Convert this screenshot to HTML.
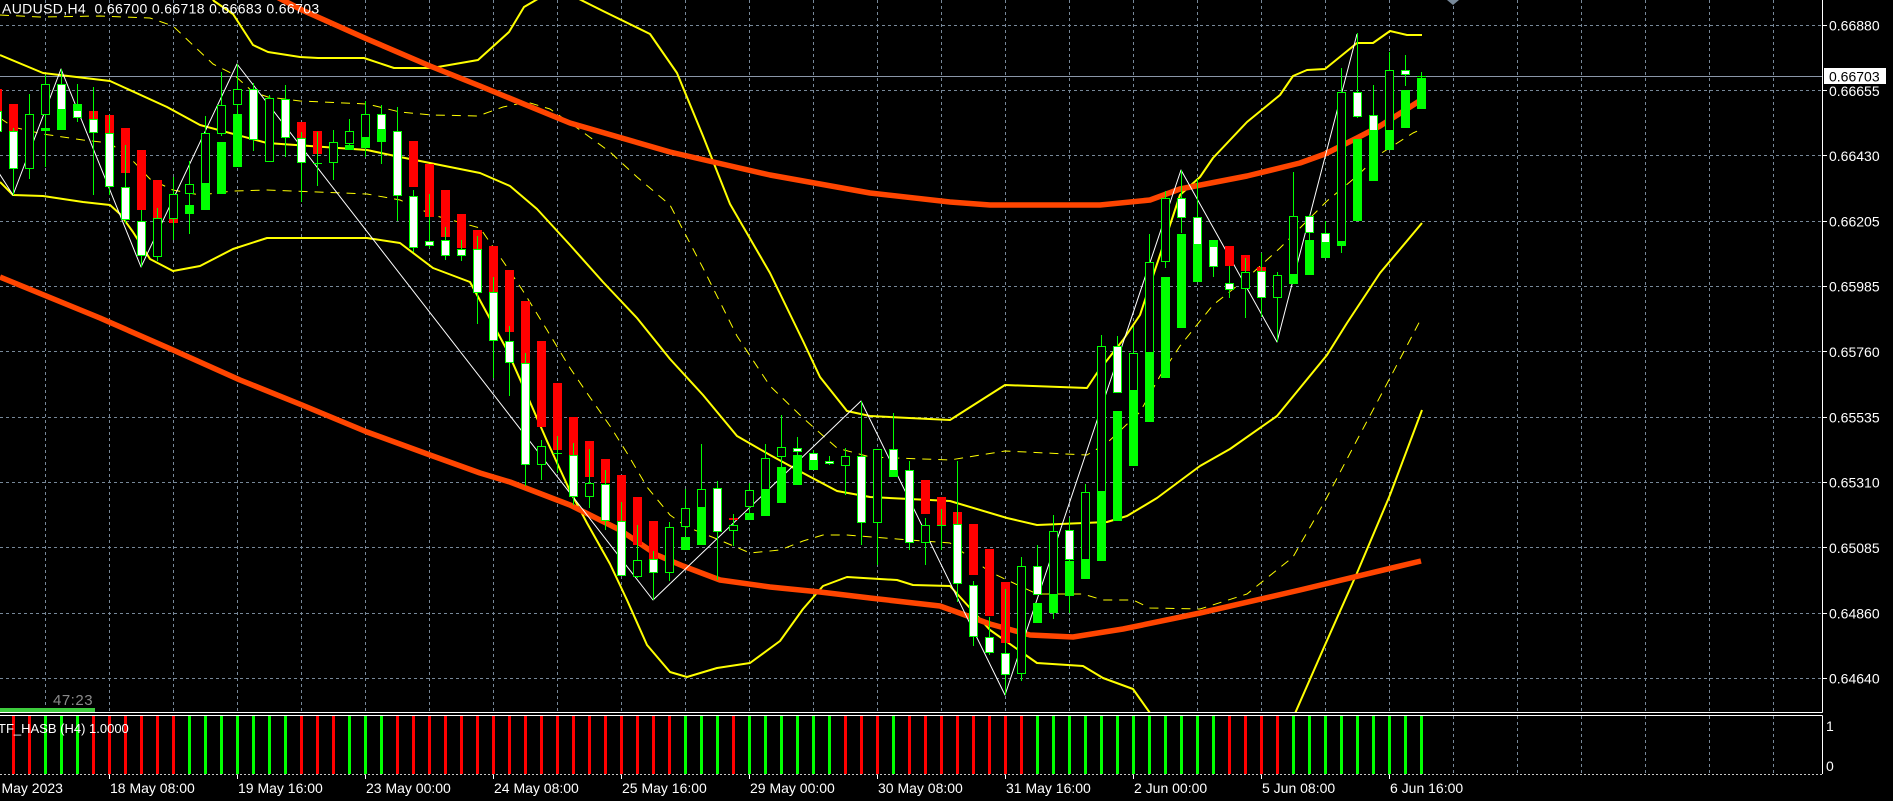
<!DOCTYPE html>
<html><head><meta charset="utf-8"><style>
html,body{margin:0;padding:0;background:#000;}
svg{display:block;}
text{font-family:"Liberation Sans",sans-serif;}
.hr{fill:#f00;stroke:none}
.hg{fill:#0f0;stroke:none}
.w{fill:#fff;stroke:#0f0}
.b{fill:#000;stroke:#0f0}
</style></head><body>
<svg width="1893" height="801" viewBox="0 0 1893 801" xmlns="http://www.w3.org/2000/svg">
<defs><clipPath id="cm"><rect x="0" y="0" width="1822" height="712"/></clipPath>
<clipPath id="cs"><rect x="0" y="716" width="1822" height="58"/></clipPath></defs>
<rect width="1893" height="801" fill="#000"/>
<!-- grid -->
<path stroke="#778899" stroke-width="1" stroke-dasharray="3 3" fill="none" d="M0 25.5H1822M0 90.5H1822M0 155.5H1822M0 221.5H1822M0 286.5H1822M0 351.5H1822M0 417.5H1822M0 482.5H1822M0 547.5H1822M0 613.5H1822M0 678.5H1822
M45.5 0V712M109.5 0V712M173.5 0V712M237.5 0V712M301.5 0V712M365.5 0V712M429.5 0V712M493.5 0V712M557.5 0V712M621.5 0V712M685.5 0V712M749.5 0V712M813.5 0V712M877.5 0V712M941.5 0V712M1005.5 0V712M1069.5 0V712M1133.5 0V712M1197.5 0V712M1261.5 0V712M1325.5 0V712M1389.5 0V712M1453.5 0V712M1517.5 0V712M1581.5 0V712M1645.5 0V712M1709.5 0V712M1773.5 0V712
M45.5 716V774M109.5 716V774M173.5 716V774M237.5 716V774M301.5 716V774M365.5 716V774M429.5 716V774M493.5 716V774M557.5 716V774M621.5 716V774M685.5 716V774M749.5 716V774M813.5 716V774M877.5 716V774M941.5 716V774M1005.5 716V774M1069.5 716V774M1133.5 716V774M1197.5 716V774M1261.5 716V774M1325.5 716V774M1389.5 716V774M1453.5 716V774M1517.5 716V774M1581.5 716V774M1645.5 716V774M1709.5 716V774M1773.5 716V774"/>
<!-- price line -->
<path d="M0 76.5H1822" stroke="#8a96a8" stroke-width="1"/>
<polygon points="1447,0 1459,0 1453,5" fill="#778899"/>
<g clip-path="url(#cm)" fill="none" stroke-linejoin="round">
<!-- dashed bands -->
<polyline stroke="#ffff00" stroke-width="1" stroke-dasharray="9 7" points="0,15 40,17 100,16 150,18 173,26 195,47 213,64 233,74 253,92 268,97 300,101 367,104 400,112 432,115 478,116 503,107 527,102 550,109 580,130 610,152 637,177 670,205 703,268 737,336 770,386 803,418 837,448 870,457 950,460 1005,451 1087,455 1107,443 1140,412 1160,376 1180,346 1213,305 1247,278 1280,248 1327,201 1357,176 1380,154 1413,133 1422,129"/>
<polyline stroke="#ffff00" stroke-width="1" stroke-dasharray="9 7" points="0,118 13,127 43,134 83,140 110,143 133,161 150,179 173,190 200,195 233,191 267,190 367,194 400,200 433,215 480,228 507,267 523,291 547,330 570,368 587,393 610,426 627,453 647,487 670,515 687,527 717,539 750,553 780,550 803,541 823,535 847,535 897,539 950,543 990,572 1037,594 1083,594 1103,600 1133,600 1150,608 1200,609 1247,594 1293,557 1325,501 1357,440 1390,378 1422,317"/>
<!-- solid bands -->
<polyline stroke="#ffff00" stroke-width="2" points="0,-25 43,-39 110,-52 149,-65 172,-54 195,-25 214,1 233,14 253,45 268,52 300,57 318,58 364,58 394,68 432,68 478,60 509,32 524,7 536,0 550,-8 577,-2 603,11 650,34 677,73 703,136 730,204 770,273 803,341 820,377 847,411 870,416 950,420 1005,385 1087,388 1097,373 1123,340 1140,315 1160,255 1180,195 1200,177 1213,158 1247,122 1280,95 1293,76 1307,70 1325,69 1357,43 1373,43 1390,31 1407,35 1422,35"/>
<polyline stroke="#ffff00" stroke-width="2" points="0,55 43,73 110,81 167,107 200,125 267,143 367,150 400,157 480,173 510,186 537,209 570,245 603,282 637,318 670,359 703,395 737,436 770,455 803,473 837,491 870,497 950,501 1007,518 1037,525 1107,522 1127,516 1157,498 1200,466 1230,449 1277,416 1327,355 1347,323 1380,273 1422,223"/>
<polyline stroke="#ffff00" stroke-width="2" points="0,182 13,195 43,196 83,202 110,205 120,214 133,232 150,259 173,271 200,266 233,249 267,238 367,238 400,243 433,268 470,282 507,350 523,386 547,441 570,491 587,523 610,564 627,600 647,645 670,672 687,677 717,668 750,663 780,641 803,609 823,586 847,577 897,580 913,585 950,586 990,630 1037,663 1083,666 1103,678 1133,689 1150,713 1200,753 1247,752 1293,718 1325,645 1357,573 1390,495 1422,410"/>
<!-- orange MAs -->
<polyline stroke="#ff4500" stroke-width="5.5" points="250,-16 275,-4 302,10 367,39 430,66 480,86 570,123 670,152 770,175 870,193 950,202 990,205 1100,205 1150,200 1180,189 1247,176 1300,163 1325,154 1357,138 1380,126 1421,100"/>
<polyline stroke="#ff4500" stroke-width="5.5" points="0,277 100,318 173,350 240,380 302,405 367,432 430,455 480,473 510,482 570,505 620,530 657,555 683,566 720,580 770,587 820,592 870,598 940,606 990,624 1030,635 1073,637 1123,629 1200,613 1300,590 1421,561"/>
<!-- zigzag -->
<polyline stroke="#fff" stroke-width="1" points="-3,170 13,195 61,69 141,267 237,64 653,600 861,401 1005,695 1181,170 1277,342 1357,34"/>
</g>
<!-- candles -->
<g clip-path="url(#cm)" stroke="#0f0" stroke-width="1" fill="none">
<g transform="translate(-3)"><path class="hr" d="M-4 89h9v22h-9z"/><path d="M.5 105V135"/><path class="w" d="M-3.5 111.5h8v20h-8z"/></g>
<g transform="translate(13)"><path class="hr" d="M-4 104h9v27h-9z"/><path d="M.5 128V195"/><path class="w" d="M-3.5 131.5h8v37h-8z"/></g>
<g transform="translate(29)"><path d="M.5 94V179"/><path class="b" d="M-3.5 114.5h8v54h-8z"/></g>
<g transform="translate(45)"><path class="hg" d="M-4 128h9v3h-9z"/><path d="M.5 75V167"/><path class="b" d="M-3.5 84.5h8v30h-8z"/></g>
<g transform="translate(61)"><path class="hg" d="M-4 109h9v21h-9z"/><path d="M.5 69V130"/><path class="w" d="M-3.5 84.5h8v25h-8z"/></g>
<g transform="translate(77)"><path class="hg" d="M-4 104h9v6h-9z"/><path d="M.5 84V122"/><path class="w" d="M-3.5 110.5h8v7h-8z"/></g>
<g transform="translate(93)"><path class="hr" d="M-4 111h9v8h-9z"/><path d="M.5 87V195"/><path class="w" d="M-3.5 119.5h8v13h-8z"/></g>
<g transform="translate(109)"><path class="hr" d="M-4 115h9v18h-9z"/><path d="M.5 115V195"/><path class="w" d="M-3.5 133.5h8v53h-8z"/></g>
<g transform="translate(125)"><path class="hr" d="M-4 128h9v45h-9z"/><path d="M.5 145V223"/><path class="w" d="M-3.5 187.5h8v32h-8z"/></g>
<g transform="translate(141)"><path class="hr" d="M-4 150h9v60h-9z"/><path d="M.5 210V267"/><path class="w" d="M-3.5 221.5h8v34h-8z"/></g>
<g transform="translate(157)"><path class="hr" d="M-4 180h9v38h-9z"/><path d="M.5 208V261"/><path class="b" d="M-3.5 218.5h8v38h-8z"/></g>
<g transform="translate(173)"><path class="hr" d="M-4 218h9v5h-9z"/><path d="M.5 177V240"/><path class="b" d="M-3.5 194.5h8v24h-8z"/></g>
<g transform="translate(189)"><path class="hg" d="M-4 205h9v9h-9z"/><path d="M.5 161V234"/><path class="b" d="M-3.5 184.5h8v9h-8z"/></g>
<g transform="translate(205)"><path class="hg" d="M-4 184h9v26h-9z"/><path d="M.5 116V184"/><path class="b" d="M-3.5 133.5h8v50h-8z"/></g>
<g transform="translate(221)"><path class="hg" d="M-4 142h9v52h-9z"/><path d="M.5 72V136"/><path class="b" d="M-3.5 105.5h8v28h-8z"/></g>
<g transform="translate(237)"><path class="hg" d="M-4 114h9v53h-9z"/><path d="M.5 64V114"/><path class="b" d="M-3.5 89.5h8v15h-8z"/></g>
<g transform="translate(253)"><path d="M.5 83V151"/><path class="w" d="M-3.5 89.5h8v50h-8z"/></g>
<g transform="translate(269)"><path d="M.5 95V162"/><path class="b" d="M-3.5 98.5h8v63h-8z"/></g>
<g transform="translate(285)"><path d="M.5 85V157"/><path class="w" d="M-3.5 99.5h8v38h-8z"/></g>
<g transform="translate(301)"><path class="hr" d="M-4 122h9v16h-9z"/><path d="M.5 132V202"/><path class="w" d="M-3.5 138.5h8v24h-8z"/></g>
<g transform="translate(317)"><path class="hr" d="M-4 131h9v23h-9z"/><path d="M.5 132V186"/><path d="M-4 163.5h9"/></g>
<g transform="translate(333)"><path d="M.5 130V180"/><path class="b" d="M-3.5 142.5h8v20h-8z"/></g>
<g transform="translate(349)"><path class="hg" d="M-4 145h9v5h-9z"/><path d="M.5 119V150"/><path class="b" d="M-3.5 131.5h8v12h-8z"/></g>
<g transform="translate(365)"><path class="hg" d="M-4 138h9v10h-9z"/><path d="M.5 101V157"/><path class="b" d="M-3.5 114.5h8v23h-8z"/></g>
<g transform="translate(381)"><path class="hg" d="M-4 130h9v12h-9z"/><path d="M.5 105V164"/><path class="w" d="M-3.5 114.5h8v15h-8z"/></g>
<g transform="translate(397)"><path d="M.5 107V221"/><path class="w" d="M-3.5 131.5h8v64h-8z"/></g>
<g transform="translate(413)"><path class="hr" d="M-4 141h9v46h-9z"/><path d="M.5 190V252"/><path class="w" d="M-3.5 196.5h8v51h-8z"/></g>
<g transform="translate(429)"><path class="hr" d="M-4 164h9v53h-9z"/><path d="M.5 194V248"/><path class="w" d="M-3.5 241.5h8v4h-8z"/></g>
<g transform="translate(445)"><path class="hr" d="M-4 190h9v47h-9z"/><path d="M.5 227V260"/><path class="w" d="M-3.5 240.5h8v15h-8z"/></g>
<g transform="translate(461)"><path class="hr" d="M-4 214h9v34h-9z"/><path d="M.5 240V261"/><path class="w" d="M-3.5 249.5h8v6h-8z"/></g>
<g transform="translate(477)"><path class="hr" d="M-4 230h9v19h-9z"/><path d="M.5 236V324"/><path class="w" d="M-3.5 249.5h8v43h-8z"/></g>
<g transform="translate(493)"><path class="hr" d="M-4 246h9v46h-9z"/><path d="M.5 277V378"/><path class="w" d="M-3.5 292.5h8v48h-8z"/></g>
<g transform="translate(509)"><path class="hr" d="M-4 270h9v62h-9z"/><path d="M.5 326V396"/><path class="w" d="M-3.5 341.5h8v21h-8z"/></g>
<g transform="translate(525)"><path class="hr" d="M-4 301h9v63h-9z"/><path d="M.5 353V486"/><path class="w" d="M-3.5 363.5h8v101h-8z"/></g>
<g transform="translate(541)"><path class="hr" d="M-4 341h9v86h-9z"/><path d="M.5 440V480"/><path class="b" d="M-3.5 446.5h8v18h-8z"/></g>
<g transform="translate(557)"><path class="hr" d="M-4 383h9v67h-9z"/><path d="M.5 436V473"/><path d="M-4 453.5h9"/></g>
<g transform="translate(573)"><path class="hr" d="M-4 417h9v38h-9z"/><path d="M.5 443V505"/><path class="w" d="M-3.5 455.5h8v41h-8z"/></g>
<g transform="translate(589)"><path class="hr" d="M-4 441h9v36h-9z"/><path d="M.5 449V508"/><path class="b" d="M-3.5 483.5h8v13h-8z"/></g>
<g transform="translate(605)"><path class="hr" d="M-4 459h9v24h-9z"/><path d="M.5 470V530"/><path class="w" d="M-3.5 484.5h8v36h-8z"/></g>
<g transform="translate(621)"><path class="hr" d="M-4 475h9v46h-9z"/><path d="M.5 502V576"/><path class="w" d="M-3.5 521.5h8v54h-8z"/></g>
<g transform="translate(637)"><path class="hr" d="M-4 497h9v48h-9z"/><path d="M.5 525V578"/><path class="b" d="M-3.5 560.5h8v16h-8z"/></g>
<g transform="translate(653)"><path class="hr" d="M-4 521h9v38h-9z"/><path d="M.5 551V600"/><path class="w" d="M-3.5 559.5h8v13h-8z"/></g>
<g transform="translate(669)"><path d="M.5 522V581"/><path class="b" d="M-3.5 527.5h8v45h-8z"/></g>
<g transform="translate(685)"><path class="hg" d="M-4 537h9v13h-9z"/><path d="M.5 489V536"/><path class="b" d="M-3.5 508.5h8v18h-8z"/></g>
<g transform="translate(701)"><path class="hg" d="M-4 508h9v37h-9z"/><path d="M.5 444V545"/><path class="b" d="M-3.5 489.5h8v18h-8z"/></g>
<g transform="translate(717)"><path d="M.5 481V580"/><path class="w" d="M-3.5 488.5h8v43h-8z"/></g>
<g transform="translate(733)"><path class="hr" d="M-4 518h9v2h-9z"/><path d="M.5 514V546"/><path class="b" d="M-3.5 525.5h8v5h-8z"/></g>
<g transform="translate(749)"><path class="hg" d="M-4 513h9v7h-9z"/><path d="M.5 483V514"/><path class="b" d="M-3.5 490.5h8v16h-8z"/></g>
<g transform="translate(765)"><path class="hg" d="M-4 490h9v26h-9z"/><path d="M.5 444V491"/><path class="b" d="M-3.5 458.5h8v31h-8z"/></g>
<g transform="translate(781)"><path class="hg" d="M-4 467h9v36h-9z"/><path d="M.5 415V468"/><path class="b" d="M-3.5 447.5h8v9h-8z"/></g>
<g transform="translate(797)"><path class="hg" d="M-4 455h9v30h-9z"/><path d="M.5 437V455"/><path class="w" d="M-3.5 448.5h8v3h-8z"/></g>
<g transform="translate(813)"><path class="hg" d="M-4 461h9v9h-9z"/><path d="M.5 450V464"/><path class="w" d="M-3.5 453.5h8v7h-8z"/></g>
<g transform="translate(829)"><path d="M.5 456V465"/><path class="w" d="M-3.5 461.5h8v2h-8z"/></g>
<g transform="translate(845)"><path d="M.5 448V495"/><path class="b" d="M-3.5 456.5h8v9h-8z"/></g>
<g transform="translate(861)"><path d="M.5 401V545"/><path class="w" d="M-3.5 456.5h8v66h-8z"/></g>
<g transform="translate(877)"><path d="M.5 449V565"/><path class="b" d="M-3.5 449.5h8v73h-8z"/></g>
<g transform="translate(893)"><path class="hg" d="M-4 471h9v6h-9z"/><path d="M.5 413V477"/><path class="w" d="M-3.5 449.5h8v21h-8z"/></g>
<g transform="translate(909)"><path d="M.5 461V550"/><path class="w" d="M-3.5 470.5h8v72h-8z"/></g>
<g transform="translate(925)"><path class="hr" d="M-4 480h9v34h-9z"/><path d="M.5 518V565"/><path class="b" d="M-3.5 525.5h8v17h-8z"/></g>
<g transform="translate(941)"><path class="hr" d="M-4 497h9v28h-9z"/><path d="M.5 509V550"/><path d="M-4 525.5h9"/></g>
<g transform="translate(957)"><path class="hr" d="M-4 512h9v13h-9z"/><path d="M.5 461V602"/><path class="w" d="M-3.5 524.5h8v59h-8z"/></g>
<g transform="translate(973)"><path class="hr" d="M-4 524h9v51h-9z"/><path d="M.5 581V646"/><path class="w" d="M-3.5 585.5h8v51h-8z"/></g>
<g transform="translate(989)"><path class="hr" d="M-4 549h9v67h-9z"/><path d="M.5 617V655"/><path class="w" d="M-3.5 637.5h8v15h-8z"/></g>
<g transform="translate(1005)"><path class="hr" d="M-4 582h9v61h-9z"/><path d="M.5 589V695"/><path class="w" d="M-3.5 653.5h8v21h-8z"/></g>
<g transform="translate(1021)"><path d="M.5 557V681"/><path class="b" d="M-3.5 566.5h8v107h-8z"/></g>
<g transform="translate(1037)"><path class="hg" d="M-4 603h9v20h-9z"/><path d="M.5 545V595"/><path class="w" d="M-3.5 566.5h8v28h-8z"/></g>
<g transform="translate(1053)"><path class="hg" d="M-4 595h9v18h-9z"/><path d="M.5 515V619"/><path class="b" d="M-3.5 531.5h8v63h-8z"/></g>
<g transform="translate(1069)"><path class="hg" d="M-4 561h9v35h-9z"/><path d="M.5 518V613"/><path class="w" d="M-3.5 530.5h8v29h-8z"/></g>
<g transform="translate(1085)"><path class="hg" d="M-4 560h9v19h-9z"/><path d="M.5 484V560"/><path class="b" d="M-3.5 492.5h8v67h-8z"/></g>
<g transform="translate(1101)"><path class="hg" d="M-4 492h9v69h-9z"/><path d="M.5 335V492"/><path class="b" d="M-3.5 346.5h8v145h-8z"/></g>
<g transform="translate(1117)"><path class="hg" d="M-4 411h9v110h-9z"/><path d="M.5 336V393"/><path class="w" d="M-3.5 346.5h8v46h-8z"/></g>
<g transform="translate(1133)"><path class="hg" d="M-4 391h9v75h-9z"/><path d="M.5 327V391"/><path class="b" d="M-3.5 353.5h8v37h-8z"/></g>
<g transform="translate(1149)"><path class="hg" d="M-4 353h9v69h-9z"/><path d="M.5 234V353"/><path class="b" d="M-3.5 262.5h8v90h-8z"/></g>
<g transform="translate(1165)"><path class="hg" d="M-4 277h9v101h-9z"/><path d="M.5 191V268"/><path class="b" d="M-3.5 198.5h8v63h-8z"/></g>
<g transform="translate(1181)"><path class="hg" d="M-4 234h9v94h-9z"/><path d="M.5 170V233"/><path class="w" d="M-3.5 198.5h8v19h-8z"/></g>
<g transform="translate(1197)"><path class="hg" d="M-4 245h9v37h-9z"/><path d="M.5 179V245"/><path class="w" d="M-3.5 217.5h8v27h-8z"/></g>
<g transform="translate(1213)"><path class="hg" d="M-4 240h9v7h-9z"/><path d="M.5 240V277"/><path class="w" d="M-3.5 246.5h8v20h-8z"/></g>
<g transform="translate(1229)"><path class="hr" d="M-4 246h9v20h-9z"/><path d="M.5 266V298"/><path class="w" d="M-3.5 283.5h8v6h-8z"/></g>
<g transform="translate(1245)"><path class="hr" d="M-4 255h9v16h-9z"/><path d="M.5 258V318"/><path class="b" d="M-3.5 272.5h8v16h-8z"/></g>
<g transform="translate(1261)"><path class="hr" d="M-4 267h9v4h-9z"/><path d="M.5 253V317"/><path class="w" d="M-3.5 271.5h8v26h-8z"/></g>
<g transform="translate(1277)"><path d="M.5 272V342"/><path class="b" d="M-3.5 275.5h8v22h-8z"/></g>
<g transform="translate(1293)"><path class="hg" d="M-4 275h9v9h-9z"/><path d="M.5 172V284"/><path class="b" d="M-3.5 216.5h8v58h-8z"/></g>
<g transform="translate(1309)"><path class="hg" d="M-4 240h9v35h-9z"/><path d="M.5 215V240"/><path class="w" d="M-3.5 216.5h8v16h-8z"/></g>
<g transform="translate(1325)"><path class="hg" d="M-4 242h9v16h-9z"/><path d="M.5 221V243"/><path class="w" d="M-3.5 233.5h8v9h-8z"/></g>
<g transform="translate(1341)"><path class="hg" d="M-4 242h9v4h-9z"/><path d="M.5 68V253"/><path class="b" d="M-3.5 92.5h8v149h-8z"/></g>
<g transform="translate(1357)"><path class="hg" d="M-4 139h9v82h-9z"/><path d="M.5 33V118"/><path class="w" d="M-3.5 92.5h8v24h-8z"/></g>
<g transform="translate(1373)"><path class="hg" d="M-4 131h9v50h-9z"/><path d="M.5 85V131"/><path class="w" d="M-3.5 115.5h8v15h-8z"/></g>
<g transform="translate(1389)"><path class="hg" d="M-4 131h9v19h-9z"/><path d="M.5 52V150"/><path class="b" d="M-3.5 70.5h8v60h-8z"/></g>
<g transform="translate(1405)"><path class="hg" d="M-4 90h9v38h-9z"/><path d="M.5 55V86"/><path class="w" d="M-3.5 70.5h8v4h-8z"/></g>
<g transform="translate(1421)"><path class="hg" d="M-4 78h9v31h-9z"/><path d="M.5 72V82"/><path d="M-4 76.5h9"/></g>
</g>
<!-- title -->
<text x="2" y="13.5" font-size="14" fill="#fff" letter-spacing="0.35" style="white-space:pre">AUDUSD,H4  0.66700 0.66718 0.66683 0.66703</text>
<!-- timer -->
<text x="53" y="705" font-size="15" fill="#8a8a8a" letter-spacing="0.5">47:23</text>
<rect x="0" y="708" width="95" height="5" fill="#3dcc3d"/>
<!-- borders -->
<path d="M0 712.5H1822.5M0 715.5H1822.5M1822.5 0V712.5M1822.5 715.5V774" stroke="#fff" stroke-width="1" fill="none"/>
<path d="M0 774.5H1822" stroke="#c8c8c8" stroke-width="1" stroke-dasharray="2 2"/>
<!-- histogram -->
<g clip-path="url(#cs)">
<path stroke="#f00" stroke-width="3" d="M13.5 716V774M29.5 716V774M93.5 716V774M109.5 716V774M125.5 716V774M141.5 716V774M157.5 716V774M173.5 716V774M301.5 716V774M317.5 716V774M333.5 716V774M397.5 716V774M413.5 716V774M429.5 716V774M445.5 716V774M461.5 716V774M477.5 716V774M493.5 716V774M509.5 716V774M525.5 716V774M541.5 716V774M557.5 716V774M573.5 716V774M589.5 716V774M605.5 716V774M621.5 716V774M637.5 716V774M653.5 716V774M669.5 716V774M733.5 716V774M845.5 716V774M861.5 716V774M877.5 716V774M909.5 716V774M925.5 716V774M941.5 716V774M957.5 716V774M973.5 716V774M989.5 716V774M1005.5 716V774M1021.5 716V774M1229.5 716V774M1245.5 716V774M1261.5 716V774M1277.5 716V774"/>
<path stroke="#0f0" stroke-width="3" d="M45.5 716V774M61.5 716V774M77.5 716V774M189.5 716V774M205.5 716V774M221.5 716V774M237.5 716V774M253.5 716V774M269.5 716V774M285.5 716V774M349.5 716V774M365.5 716V774M381.5 716V774M685.5 716V774M701.5 716V774M717.5 716V774M749.5 716V774M765.5 716V774M781.5 716V774M797.5 716V774M813.5 716V774M829.5 716V774M893.5 716V774M1037.5 716V774M1053.5 716V774M1069.5 716V774M1085.5 716V774M1101.5 716V774M1117.5 716V774M1133.5 716V774M1149.5 716V774M1165.5 716V774M1181.5 716V774M1197.5 716V774M1213.5 716V774M1293.5 716V774M1309.5 716V774M1325.5 716V774M1341.5 716V774M1357.5 716V774M1373.5 716V774M1389.5 716V774M1405.5 716V774M1421.5 716V774"/>
</g>
<text x="-2" y="733" font-size="13" fill="#fff">TF_HASB (H4) 1.0000</text>
<!-- right axis ticks & labels -->
<path stroke="#fff" stroke-width="1" d="M1823 25.5H1827M1823 90.5H1827M1823 155.5H1827M1823 221.5H1827M1823 286.5H1827M1823 351.5H1827M1823 417.5H1827M1823 482.5H1827M1823 547.5H1827M1823 613.5H1827M1823 678.5H1827"/>
<g font-size="14" fill="#fff">
<text x="1829" y="30.5">0.66880</text>
<text x="1829" y="96">0.66655</text>
<text x="1829" y="161">0.66430</text>
<text x="1829" y="226.5">0.66205</text>
<text x="1829" y="291.5">0.65985</text>
<text x="1829" y="357">0.65760</text>
<text x="1829" y="422.5">0.65535</text>
<text x="1829" y="487.5">0.65310</text>
<text x="1829" y="553">0.65085</text>
<text x="1829" y="618.5">0.64860</text>
<text x="1829" y="683.5">0.64640</text>
<text x="1826" y="731">1</text>
<text x="1826" y="771">0</text>
</g>
<rect x="1824" y="68" width="62" height="16" fill="#fff"/>
<text x="1829" y="81.5" font-size="14" fill="#000">0.66703</text>
<!-- time axis -->
<path stroke="#fff" stroke-width="1" d="M109.5 775V779M237.5 775V779M365.5 775V779M493.5 775V779M621.5 775V779M749.5 775V779M877.5 775V779M1005.5 775V779M1133.5 775V779M1261.5 775V779M1389.5 775V779"/>
<g font-size="14" fill="#fff">
<text x="-18" y="793">17 May 2023</text>
<text x="110" y="793">18 May 08:00</text>
<text x="238" y="793">19 May 16:00</text>
<text x="366" y="793">23 May 00:00</text>
<text x="494" y="793">24 May 08:00</text>
<text x="622" y="793">25 May 16:00</text>
<text x="750" y="793">29 May 00:00</text>
<text x="878" y="793">30 May 08:00</text>
<text x="1006" y="793">31 May 16:00</text>
<text x="1134" y="793">2 Jun 00:00</text>
<text x="1262" y="793">5 Jun 08:00</text>
<text x="1390" y="793">6 Jun 16:00</text>
</g>
</svg>
</body></html>
